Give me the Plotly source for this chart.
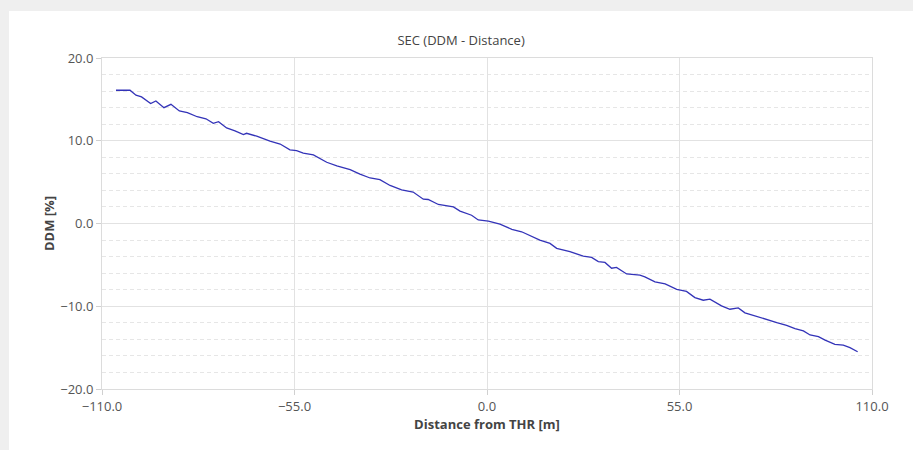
import plotly.graph_objects as go

distance_m = [-106.0, -102.0, -100.3, -98.7, -96.1, -94.6, -92.3, -90.3, -87.9, -85.6,
              -82.8, -80.3, -78.2, -76.7, -74.4, -72.0, -69.6, -68.7, -65.8, -62.0,
              -59.1, -56.3, -54.4, -52.5, -49.6, -45.8, -42.9, -39.1, -36.3, -33.4,
              -30.6, -27.7, -24.4, -21.1, -18.2, -16.8, -13.9, -9.6, -7.7, -4.4,
              -2.5, 0.4, 3.7, 7.1, 9.9, 15.1, 18.0, 19.9, 23.7, 27.5,
              29.9, 31.8, 33.7, 35.6, 37.0, 39.9, 43.7, 45.1, 48.0, 50.9,
              54.2, 57.0, 59.4, 61.8, 63.7, 67.0, 69.4, 71.8, 73.7, 76.6,
              79.9, 82.8, 85.6, 88.0, 90.4, 92.3, 94.7, 96.6, 99.4, 101.8,
              103.7, 105.9]
ddm_pct = [16.1, 16.1, 15.5, 15.3, 14.5, 14.8, 14.0, 14.4, 13.6, 13.4,
           12.9, 12.65, 12.1, 12.3, 11.55, 11.2, 10.75, 10.9, 10.55, 9.95,
           9.6, 8.9, 8.8, 8.5, 8.3, 7.4, 6.96, 6.5, 5.96, 5.5,
           5.3, 4.6, 4.06, 3.8, 2.94, 2.9, 2.3, 2.0, 1.5, 1.0,
           0.43, 0.28, -0.08, -0.7, -1.0, -2.0, -2.4, -3.0, -3.4, -3.95,
           -4.1, -4.6, -4.7, -5.4, -5.3, -6.1, -6.25, -6.45, -7.06, -7.3,
           -7.95, -8.2, -8.95, -9.27, -9.15, -9.96, -10.36, -10.2, -10.8, -11.2,
           -11.65, -11.97, -12.3, -12.7, -12.98, -13.47, -13.67, -14.1, -14.6, -14.7,
           -15.0, -15.5]

title_text = "SEC (DDM - Distance)"
x_title = "Distance from THR [m]"
y_title = "DDM [%]"

FONT = "Open Sans, Noto Sans, sans-serif"

fig = go.Figure()
fig.add_trace(go.Scatter(x=distance_m, y=ddm_pct, mode="lines",
                         line=dict(color="#3333b8", width=1.3),
                         hoverinfo="skip", showlegend=False))

# white card on grey page
fig.add_shape(type="rect", xref="paper", yref="paper",
              x0=-0.1208, x1=1.06, y0=-0.2, y1=1.142,
              fillcolor="white", line=dict(width=0), layer="below")

axis_common = dict(
    showline=True, linecolor="#dcdcdc", linewidth=1, mirror=True,
    ticks="outside", ticklen=5, tickcolor="#d0d0d0",
    tickfont=dict(family=FONT, size=13, color="#555555"),
    tickformat=".1f", zeroline=False,
    gridcolor="#e2e2e2", gridwidth=1,
)

fig.update_layout(
    width=913, height=450,
    margin=dict(l=102, r=41, t=58, b=61),
    paper_bgcolor="#efefef", plot_bgcolor="rgba(0,0,0,0)",
    title=dict(text=title_text, x=0.505, xanchor="center", y=0.91, yanchor="middle",
               font=dict(family=FONT, size=13, color="#444444")),
    xaxis=dict(range=[-110, 110], tick0=-110, dtick=55,
               title=dict(text="<b>" + x_title + "</b>", standoff=5,
                          font=dict(family=FONT, size=13, color="#444444")),
               **axis_common),
    yaxis=dict(range=[-20, 20], tick0=-20, dtick=10,
               title=dict(text="<b>" + y_title + "</b>", standoff=2,
                          font=dict(family=FONT, size=13, color="#444444")),
               minor=dict(dtick=2, showgrid=True, gridcolor="#e6e6e6",
                          griddash="4px,3px", ticks=""),
               **axis_common),
)

fig.write_html("out.html")
